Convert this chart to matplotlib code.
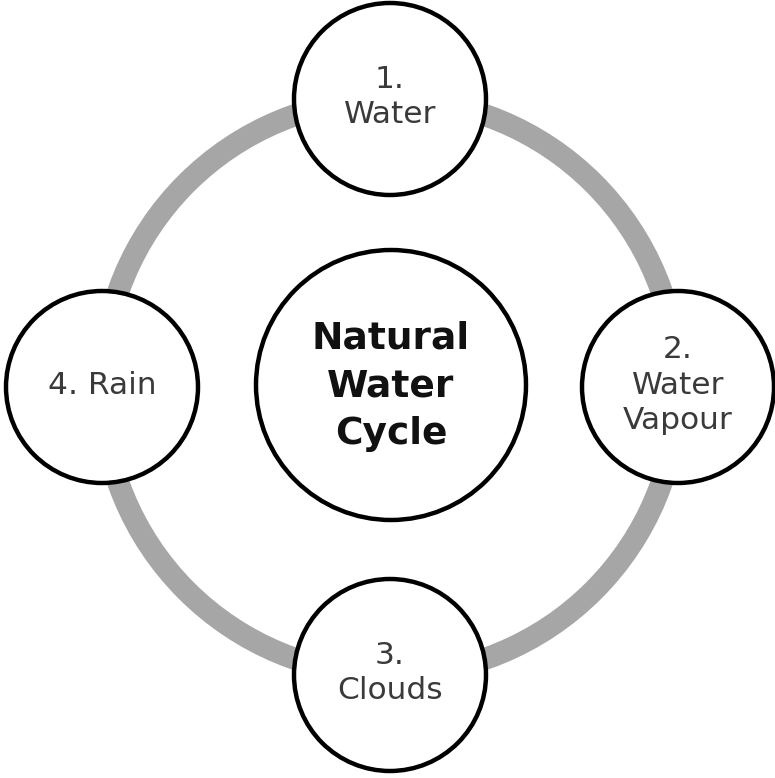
import numpy as np
import matplotlib
matplotlib.use("Agg")
import matplotlib.pyplot as plt
from matplotlib.patches import Circle

# Data
center_label = "Natural\nWater\nCycle"
node_labels = ["1.\nWater", "2.\nWater\nVapour", "3.\nClouds", "4. Rain"]
node_angles_deg = [90, 0, -90, 180]

W, H = 775, 778
fig = plt.figure(figsize=(W / 100, H / 100), dpi=100)
ax = fig.add_axes([0, 0, 1, 1])
ax.set_xlim(0, W)
ax.set_ylim(H, 0)
ax.set_aspect("equal")
ax.axis("off")

cx, cy = 390, 387
ring_r = 288
node_r = 96
center_r = 135

ring = Circle((cx, cy), ring_r, fill=False, edgecolor="#a6a6a6", linewidth=16, zorder=1)
ax.add_patch(ring)

center = Circle((cx + 1, cy - 2), center_r, facecolor="white", edgecolor="black", linewidth=3.2, zorder=2)
ax.add_patch(center)
ax.text(cx + 1, cy - 1, center_label, ha="center", va="center", fontsize=27,
        fontweight="bold", family="DejaVu Sans", color="#111111",
        linespacing=1.42, zorder=3)

for lab, ang in zip(node_labels, node_angles_deg):
    a = np.deg2rad(ang)
    x = cx + ring_r * np.cos(a)
    y = cy - ring_r * np.sin(a)
    ax.add_patch(Circle((x, y), node_r, facecolor="white", edgecolor="black",
                        linewidth=3.2, zorder=2))
    ax.text(x, y - 2, lab, ha="center", va="center", fontsize=22.5,
            family="DejaVu Sans", color="#3a3a3a", linespacing=1.28, zorder=3)

fig.savefig("out.png", dpi=100, facecolor="white")
